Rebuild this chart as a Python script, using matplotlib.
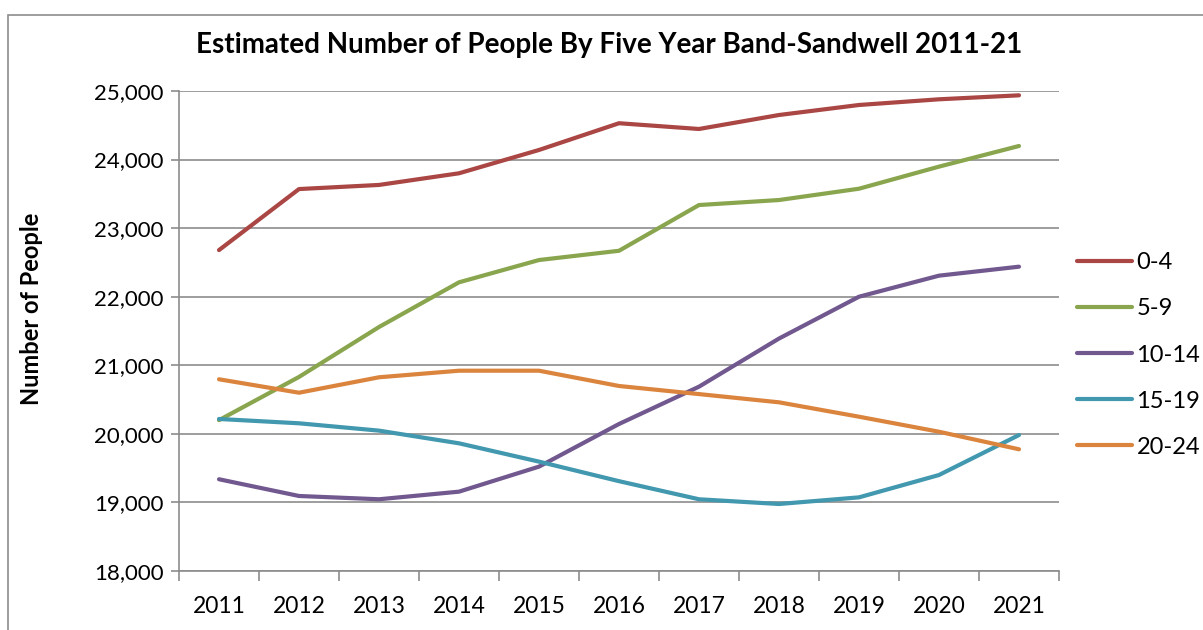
import matplotlib
matplotlib.use("Agg")
import matplotlib.pyplot as plt
from matplotlib.patches import Rectangle
from matplotlib.ticker import FuncFormatter, FixedLocator

years = ["2011", "2012", "2013", "2014", "2015", "2016", "2017", "2018", "2019", "2020", "2021"]
age_0_4 = [22680, 23570, 23630, 23800, 24140, 24530, 24446, 24650, 24796, 24879, 24937]
age_5_9 = [20200, 20830, 21558, 22210, 22535, 22670, 23337, 23410, 23575, 23897, 24198]
age_10_14 = [19338, 19094, 19046, 19157, 19522, 20144, 20688, 21390, 22000, 22307, 22438]
age_15_19 = [20217, 20154, 20047, 19862, 19595, 19310, 19046, 18977, 19074, 19400, 19983]
age_20_24 = [20796, 20600, 20825, 20921, 20921, 20698, 20580, 20460, 20250, 20031, 19775]
labels = ["0-4", "5-9", "10-14", "15-19", "20-24"]
colors = ["#AA4643", "#89A54E", "#71588F", "#4198AF", "#DB843D"]

plt.rcParams['font.family'] = ['Lato', 'DejaVu Sans']

fig = plt.figure(figsize=(12.03, 6.3), dpi=100)
ax = fig.add_axes([179/1203, 1-571/630, 880/1203, 480/630])

x = list(range(len(years)))
for s, lab, c in zip([age_0_4, age_5_9, age_10_14, age_15_19, age_20_24], labels, colors):
    ax.plot(x, s, color=c, lw=3.0, label=lab, solid_capstyle='round', solid_joinstyle='round')

ax.set_xlim(-0.5, len(years) - 0.5)
ax.set_ylim(18000, 25000)
ax.set_yticks(range(18000, 25001, 1000))
ax.yaxis.set_major_formatter(FuncFormatter(lambda v, p: f"{int(v):,}"))
ax.grid(axis='y', color='#8C8C8C', lw=1.2)
ax.set_axisbelow(True)

ax.xaxis.set_major_locator(FixedLocator([i - 0.5 for i in range(len(years) + 1)]))
ax.xaxis.set_minor_locator(FixedLocator(x))
ax.set_xticklabels([])
ax.set_xticks(x, minor=True)
ax.set_xticklabels(years, minor=True)
ax.tick_params(axis='x', which='major', length=7, color='#8C8C8C', width=1.2, direction='out')
ax.tick_params(axis='x', which='minor', length=0, pad=18, labelsize=16.5)
ax.tick_params(axis='y', length=6, color='#8C8C8C', width=1.2, labelsize=16, pad=5)

for sp in ['top', 'right']:
    ax.spines[sp].set_visible(False)
for sp in ['left', 'bottom']:
    ax.spines[sp].set_color('#8C8C8C')
    ax.spines[sp].set_linewidth(1.2)

ax.set_ylabel("Number of People", fontsize=17, fontweight='bold')
ax.yaxis.set_label_coords((43 - 179) / 880, (571 - 309) / 480)
fig.text(609/1203, 1-45/630, "Estimated Number of People By Five Year Band-Sandwell 2011-21",
         ha='center', va='center', fontsize=20, fontweight='bold')

leg = ax.legend(loc='upper left', bbox_to_anchor=(1068/1203, 1-243/630), bbox_transform=fig.transFigure,
                frameon=False, fontsize=17, handlelength=2.3, handletextpad=0.2, labelspacing=1.06,
                borderaxespad=0)

fig.patches.append(Rectangle((8/1203, -0.05), 1.2, 1-15/630+0.05, transform=fig.transFigure,
                             fill=False, edgecolor='#8C8C8C', lw=1.2))

fig.savefig("out.png", dpi=100)
